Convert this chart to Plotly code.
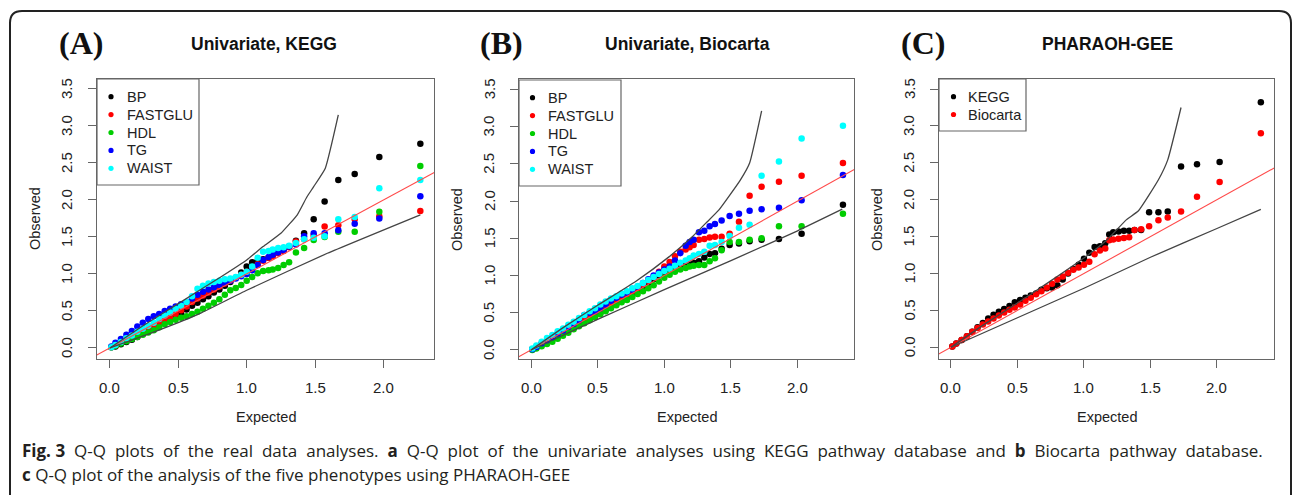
import plotly.graph_objects as go

W, H = 1292, 495

def PX(x):
    return x / W

def PY(y):
    return 1 - y / H

# ---------------- DATA ----------------
# Panel A: Univariate, KEGG  (expected -log10 p shared by all phenotypes)
exp_A = [0.01, 0.04, 0.08, 0.12, 0.16, 0.20, 0.24, 0.28, 0.32, 0.36, 0.40, 0.44, 0.48, 0.52,
         0.56, 0.60, 0.64, 0.68, 0.72, 0.76, 0.80, 0.84, 0.88, 0.92, 0.96, 1.00, 1.04, 1.08,
         1.12, 1.16, 1.19, 1.23, 1.27, 1.31, 1.36, 1.42, 1.49, 1.57, 1.67, 1.79, 1.97, 2.27]
A_BP = [0.01, 0.02, 0.05, 0.08, 0.11, 0.15, 0.19, 0.24, 0.28, 0.32, 0.36, 0.40, 0.43, 0.47,
        0.52, 0.57, 0.61, 0.66, 0.70, 0.75, 0.79, 0.84, 0.89, 0.95, 1.02, 1.10, 1.16, 1.18,
        1.20, 1.22, 1.25, 1.30, 1.33, 1.37, 1.45, 1.55, 1.74, 1.98, 2.27, 2.35, 2.58, 2.76]
A_FASTGLU = [0.01, 0.03, 0.07, 0.11, 0.14, 0.17, 0.20, 0.23, 0.27, 0.32, 0.37, 0.41, 0.46, 0.51,
             0.56, 0.62, 0.67, 0.71, 0.75, 0.79, 0.83, 0.87, 0.91, 0.95, 0.99, 1.03, 1.08, 1.13,
             1.18, 1.22, 1.24, 1.28, 1.31, 1.36, 1.44, 1.47, 1.52, 1.64, 1.66, 1.74, 1.78, 1.85]
A_HDL = [0.01, 0.03, 0.06, 0.09, 0.12, 0.15, 0.18, 0.21, 0.24, 0.28, 0.32, 0.35, 0.38, 0.41,
         0.43, 0.46, 0.49, 0.53, 0.57, 0.61, 0.66, 0.72, 0.78, 0.81, 0.85, 0.91, 0.96, 1.01,
         1.04, 1.05, 1.06, 1.08, 1.12, 1.16, 1.29, 1.35, 1.46, 1.50, 1.57, 1.57, 1.84, 2.46]
A_TG = [0.02, 0.07, 0.12, 0.18, 0.23, 0.29, 0.34, 0.39, 0.43, 0.46, 0.50, 0.53, 0.56, 0.59,
        0.62, 0.67, 0.72, 0.76, 0.79, 0.82, 0.85, 0.88, 0.91, 0.94, 0.97, 1.00, 1.05, 1.12,
        1.19, 1.23, 1.26, 1.29, 1.32, 1.37, 1.40, 1.51, 1.55, 1.55, 1.59, 1.68, 1.75, 2.05]
A_WAIST = [0.01, 0.04, 0.08, 0.13, 0.17, 0.22, 0.26, 0.30, 0.34, 0.39, 0.44, 0.48, 0.53, 0.57,
           0.62, 0.70, 0.80, 0.84, 0.87, 0.89, 0.91, 0.93, 0.94, 0.96, 0.99, 1.03, 1.10, 1.22,
           1.30, 1.31, 1.33, 1.35, 1.36, 1.38, 1.42, 1.47, 1.49, 1.51, 1.74, 1.77, 2.16, 2.27]
A_upper_x = [0.0, 0.25, 0.5, 0.81, 1.0, 1.12, 1.25, 1.37, 1.44, 1.49, 1.575, 1.67]
A_upper_y = [0.0, 0.31, 0.60, 0.96, 1.19, 1.37, 1.55, 1.80, 2.04, 2.18, 2.43, 3.15]
A_lower_x = [0.0, 0.3, 0.64, 1.0, 1.59, 2.27]
A_lower_y = [0.0, 0.20, 0.45, 0.78, 1.28, 1.80]

# Panel B: Univariate, Biocarta
exp_B = [0.01, 0.04, 0.08, 0.12, 0.16, 0.20, 0.24, 0.28, 0.32, 0.36, 0.40, 0.44, 0.48, 0.52,
         0.56, 0.60, 0.64, 0.68, 0.72, 0.76, 0.80, 0.84, 0.88, 0.92, 0.96, 1.00, 1.04, 1.08,
         1.12, 1.16, 1.19, 1.22, 1.26, 1.30, 1.34, 1.38, 1.43, 1.49, 1.56, 1.64, 1.73, 1.86,
         2.03, 2.34]
B_BP = [0.01, 0.03, 0.07, 0.11, 0.14, 0.18, 0.22, 0.26, 0.30, 0.34, 0.38, 0.42, 0.46, 0.50,
        0.54, 0.58, 0.62, 0.67, 0.71, 0.76, 0.80, 0.85, 0.90, 0.95, 1.00, 1.05, 1.08, 1.11,
        1.13, 1.15, 1.16, 1.17, 1.19, 1.24, 1.29, 1.30, 1.36, 1.41, 1.43, 1.46, 1.48, 1.49,
        1.56, 1.95]
B_FASTGLU = [0.01, 0.04, 0.08, 0.12, 0.16, 0.20, 0.24, 0.29, 0.33, 0.38, 0.42, 0.46, 0.50, 0.54,
             0.58, 0.62, 0.66, 0.70, 0.74, 0.79, 0.83, 0.88, 0.93, 0.98, 1.05, 1.12, 1.18, 1.26,
             1.32, 1.35, 1.38, 1.41, 1.48, 1.49, 1.51, 1.52, 1.52, 1.56, 1.72, 2.07, 2.19, 2.26,
             2.34, 2.51]
B_HDL = [0.00, 0.02, 0.05, 0.08, 0.11, 0.15, 0.19, 0.23, 0.28, 0.32, 0.36, 0.40, 0.44, 0.48,
         0.52, 0.56, 0.60, 0.64, 0.67, 0.71, 0.75, 0.79, 0.83, 0.87, 0.92, 0.97, 1.01, 1.05,
         1.08, 1.10, 1.12, 1.13, 1.14, 1.14, 1.19, 1.23, 1.34, 1.45, 1.45, 1.48, 1.50, 1.66,
         1.66, 1.83]
B_TG = [0.01, 0.04, 0.09, 0.13, 0.17, 0.22, 0.26, 0.31, 0.35, 0.40, 0.47, 0.50, 0.52, 0.56,
        0.61, 0.66, 0.70, 0.74, 0.77, 0.81, 0.85, 0.90, 0.95, 1.00, 1.04, 1.08, 1.12, 1.20,
        1.30, 1.40, 1.45, 1.48, 1.58, 1.60, 1.66, 1.69, 1.74, 1.80, 1.83, 1.87, 1.89, 1.91,
        2.01, 2.35]
B_WAIST = [0.02, 0.06, 0.11, 0.16, 0.20, 0.25, 0.29, 0.34, 0.38, 0.43, 0.47, 0.52, 0.56, 0.61,
           0.65, 0.69, 0.72, 0.76, 0.79, 0.83, 0.86, 0.90, 0.94, 0.98, 1.02, 1.06, 1.09, 1.13,
           1.17, 1.20, 1.23, 1.27, 1.29, 1.32, 1.40, 1.41, 1.45, 1.53, 1.64, 1.68, 2.34, 2.53,
           2.84, 3.01]
B_upper_x = [0.0, 0.25, 0.5, 0.785, 1.035, 1.21, 1.31, 1.41, 1.57, 1.64, 1.73]
B_upper_y = [0.0, 0.31, 0.60, 0.92, 1.25, 1.52, 1.70, 1.88, 2.28, 2.51, 3.21]
B_lower_x = [0.0, 0.5, 1.0, 1.5, 2.0, 2.335]
B_lower_y = [0.0, 0.41, 0.81, 1.20, 1.60, 1.89]

# Panel C: PHARAOH-GEE
exp_C = [0.01, 0.04, 0.08, 0.12, 0.16, 0.20, 0.24, 0.28, 0.32, 0.36, 0.40, 0.44, 0.48, 0.52,
         0.56, 0.60, 0.64, 0.68, 0.72, 0.76, 0.80, 0.84, 0.88, 0.92, 0.96, 1.00, 1.04, 1.08,
         1.12, 1.16, 1.19, 1.22, 1.26, 1.30, 1.34, 1.38, 1.43, 1.49, 1.56, 1.63, 1.73, 1.85,
         2.02, 2.33]
C_KEGG = [0.01, 0.05, 0.10, 0.15, 0.21, 0.27, 0.33, 0.39, 0.44, 0.48, 0.52, 0.56, 0.61, 0.64,
          0.67, 0.70, 0.73, 0.78, 0.80, 0.81, 0.84, 0.92, 1.00, 1.06, 1.12, 1.20, 1.28, 1.36,
          1.37, 1.41, 1.53, 1.56, 1.57, 1.58, 1.58, 1.59, 1.59, 1.83, 1.83, 1.84, 2.45, 2.48,
          2.51, 3.32]
C_Biocarta = [0.01, 0.05, 0.10, 0.15, 0.21, 0.26, 0.31, 0.35, 0.39, 0.43, 0.47, 0.51, 0.54, 0.58,
              0.63, 0.67, 0.72, 0.76, 0.81, 0.86, 0.92, 0.96, 1.01, 1.05, 1.08, 1.12, 1.16, 1.26,
              1.31, 1.34, 1.45, 1.46, 1.47, 1.48, 1.49, 1.59, 1.60, 1.64, 1.72, 1.76, 1.84, 2.04,
              2.24, 2.90]
C_upper_x = [0.0, 0.25, 0.5, 0.75, 1.0, 1.17, 1.32, 1.41, 1.56, 1.63, 1.73]
C_upper_y = [0.0, 0.31, 0.60, 0.90, 1.21, 1.45, 1.73, 1.85, 2.27, 2.54, 3.25]
C_lower_x = [0.0, 0.5, 1.0, 1.5, 2.0, 2.33]
C_lower_y = [0.0, 0.40, 0.80, 1.22, 1.61, 1.87]

diag = [-0.3, 2.6]  # y = x reference line

series_names_A = ["BP", "FASTGLU", "HDL", "TG", "WAIST"]
series_names_C = ["KEGG", "Biocarta"]
colors5 = ["#000000", "#ff0000", "#00cd00", "#0000ff", "#00ffff"]
colors2 = ["#000000", "#ff0000"]

titles = ["Univariate, KEGG", "Univariate, Biocarta", "PHARAOH-GEE"]
panel_tags = ["(A)", "(B)", "(C)"]
y_ticks = [0, 0.5, 1.0, 1.5, 2.0, 2.5, 3.0, 3.5]
y_tick_text = ["0.0", "0.5", "1.0", "1.5", "2.0", "2.5", "3.0", "3.5"]
x_ticks = [0, 0.5, 1.0, 1.5, 2.0]
x_tick_text = ["0.0", "0.5", "1.0", "1.5", "2.0"]

caption_line1 = ["<b>Fig. 3</b>", "Q-Q", "plots", "of", "the", "real", "data", "analyses.", "<b>a</b>",
                 "Q-Q", "plot", "of", "the", "univariate", "analyses", "using", "KEGG", "pathway",
                 "database", "and", "<b>b</b>", "Biocarta", "pathway", "database."]
caption_line2 = "<b>c</b> Q-Q plot of the analysis of the five phenotypes using PHARAOH-GEE"

# ---------------- FIGURE ----------------
fig = go.Figure()

panels = [
    dict(xa="x", ya="y", exp=exp_A, obs=[A_BP, A_FASTGLU, A_HDL, A_TG, A_WAIST], cols=colors5,
         up=(A_upper_x, A_upper_y), lo=(A_lower_x, A_lower_y)),
    dict(xa="x2", ya="y2", exp=exp_B, obs=[B_BP, B_FASTGLU, B_HDL, B_TG, B_WAIST], cols=colors5,
         up=(B_upper_x, B_upper_y), lo=(B_lower_x, B_lower_y)),
    dict(xa="x3", ya="y3", exp=exp_C, obs=[C_KEGG, C_Biocarta], cols=colors2,
         up=(C_upper_x, C_upper_y), lo=(C_lower_x, C_lower_y)),
]

for p in panels:
    for obs, col in zip(p["obs"], p["cols"]):
        fig.add_trace(go.Scatter(x=p["exp"], y=obs, mode="markers", xaxis=p["xa"], yaxis=p["ya"],
                                 marker=dict(color=col, size=6.5, line=dict(width=0)),
                                 showlegend=False, hoverinfo="skip"))
    fig.add_trace(go.Scatter(x=diag, y=diag, mode="lines", xaxis=p["xa"], yaxis=p["ya"],
                             line=dict(color="#ff4a4a", width=1.1), showlegend=False, hoverinfo="skip"))
    for cx, cy in (p["up"], p["lo"]):
        fig.add_trace(go.Scatter(x=cx, y=cy, mode="lines", xaxis=p["xa"], yaxis=p["ya"],
                                 line=dict(color="#444444", width=1.3, shape="spline", smoothing=0.4),
                                 showlegend=False, hoverinfo="skip"))

# Box geometry (pixels)
boxes = [(97, 434), (519, 854), (939, 1274)]
box_top, box_bot = 79, 359
x_ranges = [[-0.095, 2.370], [-0.090, 2.423], [-0.090, 2.429]]
y_ranges = [[-0.149, 3.635], [-0.121, 3.638], [-0.159, 3.636]]

annotations = []
shapes = []

tick_font = dict(family="Liberation Sans, Arial, sans-serif", size=15, color="#222222")
for i, ((l, r), xr, yr) in enumerate(zip(boxes, x_ranges, y_ranges)):
    sfx = "" if i == 0 else str(i + 1)
    common = dict(showgrid=False, zeroline=False, showline=True, mirror=True, linecolor="#666666",
                  linewidth=1.2, ticks="outside", ticklen=8, tickwidth=1.1, tickcolor="#666666",
                  showticklabels=False)
    fig.layout["xaxis" + sfx] = dict(domain=[PX(l), PX(r)], range=xr, anchor="y" + sfx,
                                     tickvals=x_ticks, **common)
    fig.layout["yaxis" + sfx] = dict(domain=[PY(box_bot), PY(box_top)], range=yr, anchor="x" + sfx,
                                     tickvals=y_ticks, **common)
    # tick labels (R style: y labels parallel to the axis)
    for v, t in zip(y_ticks, y_tick_text):
        annotations.append(dict(text=t, x=PX(l - 30), y=v, xref="paper", yref="y" + sfx,
                                showarrow=False, textangle=-90, xanchor="center", yanchor="middle",
                                font=tick_font))
    for v, t in zip(x_ticks, x_tick_text):
        annotations.append(dict(text=t, x=v, y=PY(387), xref="x" + sfx, yref="paper",
                                showarrow=False, xanchor="center", yanchor="middle",
                                font=tick_font))

title_x = [264, 687, 1107]
tag_x = [80.5, 501, 922.5]
ylab_x = [35, 457, 877]
for i in range(3):
    annotations.append(dict(text=panel_tags[i], x=PX(tag_x[i]), y=PY(43), xref="paper", yref="paper",
                            showarrow=False, xanchor="center", yanchor="middle",
                            font=dict(family="Liberation Serif, Times New Roman, serif", size=32,
                                      color="#111111", weight="bold")))
    annotations.append(dict(text="<b>" + titles[i] + "</b>", x=PX(title_x[i]), y=PY(44),
                            xref="paper", yref="paper", showarrow=False, xanchor="center",
                            yanchor="middle",
                            font=dict(family="Liberation Sans, Arial, sans-serif", size=17.5,
                                      color="#111111")))
    l, r = boxes[i]
    annotations.append(dict(text="Observed", x=PX(ylab_x[i]), y=PY((box_top + box_bot) / 2),
                            xref="paper", yref="paper", showarrow=False, textangle=-90,
                            xanchor="center", yanchor="middle",
                            font=dict(family="Liberation Sans, Arial, sans-serif", size=14.5,
                                      color="#222222")))
    annotations.append(dict(text="Expected", x=PX((l + r) / 2), y=PY(417), xref="paper", yref="paper",
                            showarrow=False, xanchor="center", yanchor="middle",
                            font=dict(family="Liberation Sans, Arial, sans-serif", size=14.5,
                                      color="#222222")))

# Legends (drawn manually to match R legend boxes)
legend_specs = [
    dict(box=(97, 79, 199, 185), mx=111, tx=125, rows=[96.7, 114.6, 132.5, 150.4, 168.3],
         names=series_names_A, cols=colors5),
    dict(box=(519, 80, 621, 186), mx=532.5, tx=546, rows=[97.7, 115.6, 133.5, 151.4, 169.3],
         names=series_names_A, cols=colors5),
    dict(box=(939, 79, 1026, 131), mx=953.5, tx=966, rows=[96.7, 114.5],
         names=series_names_C, cols=colors2),
]
for lg in legend_specs:
    x0, y0, x1, y1 = lg["box"]
    shapes.append(dict(type="rect", xref="paper", yref="paper", x0=PX(x0), x1=PX(x1), y0=PY(y1),
                       y1=PY(y0), line=dict(color="#666666", width=1.2), fillcolor="white"))
    for ry, name, col in zip(lg["rows"], lg["names"], lg["cols"]):
        rr = 2.6
        shapes.append(dict(type="circle", xref="paper", yref="paper", x0=PX(lg["mx"] - rr),
                           x1=PX(lg["mx"] + rr), y0=PY(ry + rr), y1=PY(ry - rr),
                           fillcolor=col, line=dict(width=0)))
        annotations.append(dict(text=name, x=PX(lg["tx"]), y=PY(ry), xref="paper", yref="paper",
                                showarrow=False, xanchor="left", yanchor="middle",
                                font=dict(family="Liberation Sans, Arial, sans-serif", size=14.5,
                                          color="#222222")))

# Caption (first line justified: widened word gaps)
cap_font = dict(family="Open Sans, Noto Sans, sans-serif", size=17, color="#231f20")
annotations.append(dict(text=" \u2009\u200a".join(caption_line1),
                        x=PX(20), y=PY(450), xref="paper", yref="paper", showarrow=False,
                        xanchor="left", yanchor="middle", font=cap_font))
annotations.append(dict(text=caption_line2,
                        x=PX(20), y=PY(474), xref="paper", yref="paper", showarrow=False,
                        xanchor="left", yanchor="middle", font=cap_font))

# Outer rounded frame
fx0, fy0, fx1, rad = 10, 11, 1291, 12
path = (f"M {PX(fx0)},{PY(500)} L {PX(fx0)},{PY(fy0 + rad)} "
        f"Q {PX(fx0)},{PY(fy0)} {PX(fx0 + rad)},{PY(fy0)} "
        f"L {PX(fx1 - rad)},{PY(fy0)} Q {PX(fx1)},{PY(fy0)} {PX(fx1)},{PY(fy0 + rad)} "
        f"L {PX(fx1)},{PY(500)}")
shapes.append(dict(type="path", xref="paper", yref="paper", path=path,
                   line=dict(color="#222222", width=2)))

fig.update_layout(width=W, height=H, margin=dict(l=0, r=0, t=0, b=0),
                  paper_bgcolor="white", plot_bgcolor="white",
                  annotations=annotations, shapes=shapes, showlegend=False)

fig.write_html("out.html")
